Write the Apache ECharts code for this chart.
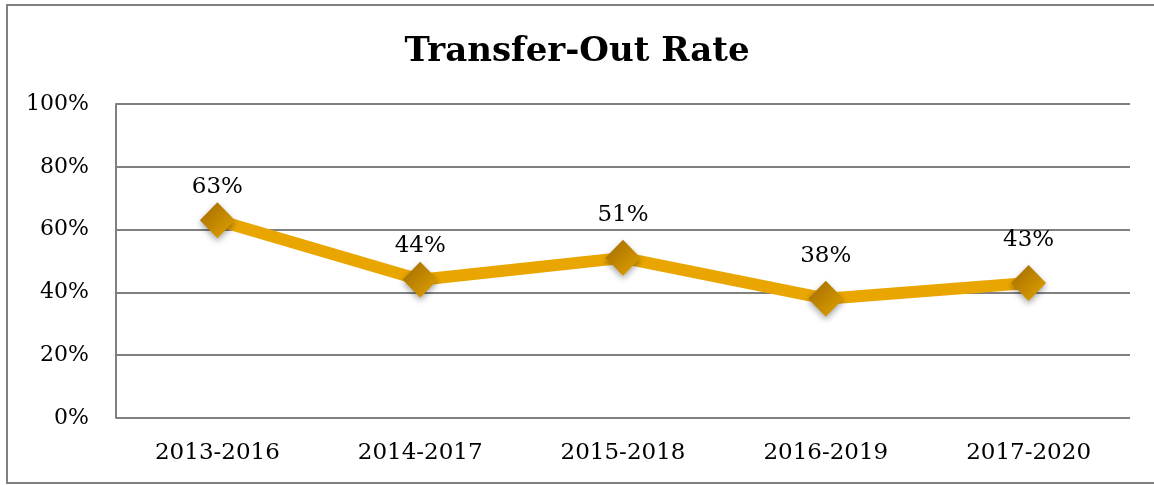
<!DOCTYPE html>
<html>
<head>
<meta charset="utf-8">
<script src="https://cdn.jsdelivr.net/npm/echarts@6/dist/echarts.min.js"></script>
<style>
  html, body { margin: 0; padding: 0; background: #ffffff; }
  #chart { width: 1154px; height: 485px; }
</style>
</head>
<body>
<div id="chart"></div>
<script>
// Transfer-out rate by cohort period
const categories = ['2013-2016', '2014-2017', '2015-2018', '2016-2019', '2017-2020'];
const rates = [63, 44, 51, 38, 43];
const yTicks = [0, 20, 40, 60, 80, 100];

const serif = '"DejaVu Serif", "Liberation Serif", serif';
const chart = echarts.init(document.getElementById('chart'));

// the first two labels sit a little closer to their markers
const seriesData = rates.map((v, i) => ({ value: v, label: { distance: i < 2 ? 4 : 13 } }));

chart.setOption({
  backgroundColor: '#ffffff',
  animation: false,
  title: {
    text: 'Transfer-Out Rate',
    left: 'center',
    top: 30,
    textStyle: { fontFamily: serif, fontSize: 34, fontWeight: 'bold', color: '#000' }
  },
  graphic: [{
    type: 'rect',
    shape: { x: 7, y: 5, width: 1180, height: 478 },
    style: { fill: 'none', stroke: '#808080', lineWidth: 2 },
    silent: true
  }],
  grid: { left: 116, right: 24, top: 104, bottom: 67 },
  xAxis: {
    type: 'category',
    data: categories,
    boundaryGap: true,
    axisLine: { show: false },
    axisTick: { show: false },
    axisLabel: { fontFamily: serif, fontSize: 23, color: '#000', margin: 24 }
  },
  yAxis: {
    type: 'value',
    min: yTicks[0],
    max: yTicks[yTicks.length - 1],
    interval: 20,
    axisLine: { show: true, lineStyle: { color: '#808080', width: 2 } },
    axisTick: { show: false },
    axisLabel: { fontFamily: serif, fontSize: 22, color: '#000', margin: 27, formatter: '{value}%' },
    splitLine: { lineStyle: { color: '#808080', width: 2 } }
  },
  series: [{
    type: 'line',
    data: seriesData,
    lineStyle: { color: '#EAA600', width: 12 },
    symbol: 'diamond',
    symbolSize: [35, 36],
    itemStyle: {
      color: new echarts.graphic.LinearGradient(0, 0, 1, 1, [
        { offset: 0, color: '#A06A00' },
        { offset: 1, color: '#E3A400' }
      ]),
      shadowColor: 'rgba(0,0,0,0.35)',
      shadowBlur: 6,
      shadowOffsetY: 3
    },
    label: {
      show: true,
      position: 'top',
      distance: 13,
      formatter: '{c}%',
      fontFamily: serif,
      fontSize: 23,
      color: '#000'
    },
    z: 3
  }]
});
</script>
</body>
</html>
